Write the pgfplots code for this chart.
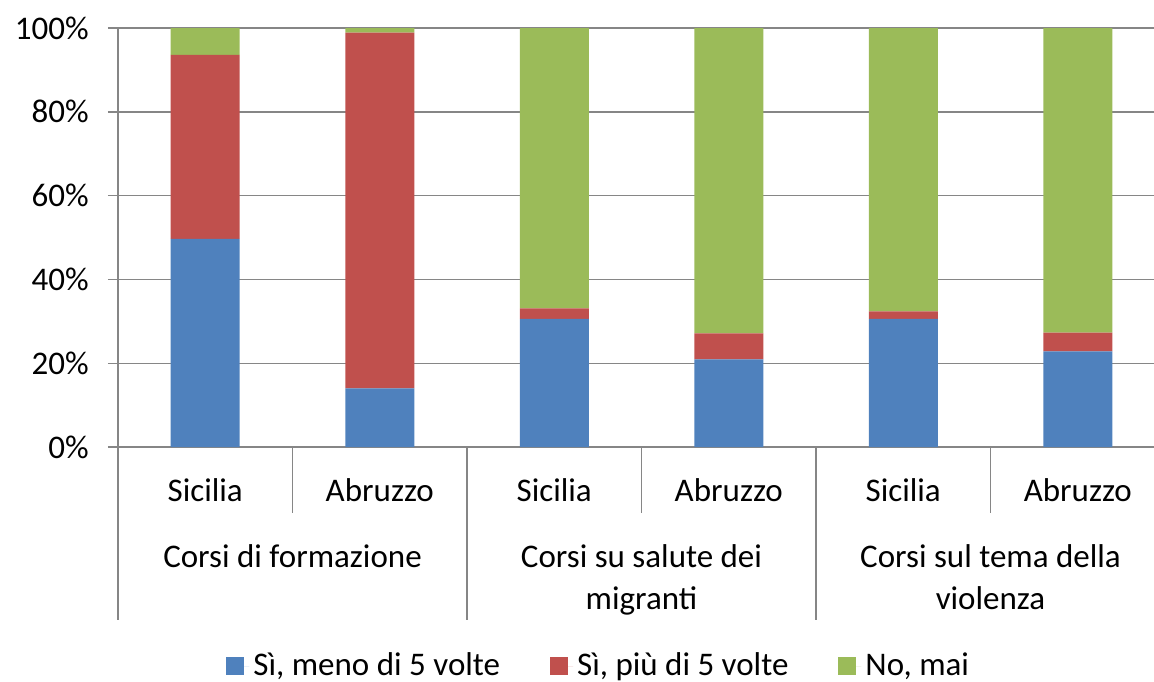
\documentclass[border=0pt]{standalone}
\usepackage{pgfplots}
\pgfplotsset{compat=1.18}
\usepackage{fontspec}
\setmainfont{Carlito}
\definecolor{cblue}{HTML}{4F81BD}
\definecolor{cred}{HTML}{C0504D}
\definecolor{cgreen}{HTML}{9BBB59}
\definecolor{axgray}{HTML}{868686}
\begin{document}
\fontsize{16.5}{20}\selectfont
\begin{tikzpicture}
\path[use as bounding box] (-59pt,-117pt) rectangle (518pt,223.5pt);
\begin{axis}[
  at={(0,0)}, anchor=south west,
  width=518pt, height=209.5pt, scale only axis,
  ybar stacked, bar width=34.5pt,
  xmin=-0.5, xmax=5.437, ymin=0, ymax=100,
  axis x line*=bottom, axis y line*=left,
  axis line style={-, axgray, line width=0.7pt},
  xtick=\empty,
  ytick={0,20,...,100},
  yticklabel={\pgfmathprintnumber{\tick}\%},
  /pgf/number format/assume math mode=true,
  ymajorgrids, grid style={axgray, line width=0.7pt},
  major tick length=5pt, tick align=outside,
  tick style={axgray, line width=0.7pt},
  yticklabel style={text=black, xshift=-4pt},
  clip=false,
  legend style={at={(0.465,-0.523)}, anchor=center, legend columns=-1, draw=none, fill=none,
    font=\fontsize{16.5}{20}\selectfont,
    /tikz/every even column/.append style={column sep=23pt}},
  legend image code/.code={\fill[#1] (0pt,-4.5pt) rectangle (9pt,4.5pt); \path (0pt,0pt) -- (11.5pt,0pt);},
]
\addplot[fill=cblue, draw=none] coordinates {(0,49.7) (1,14.0) (2,30.6) (3,20.9) (4,30.6) (5,22.8)};
\addplot[fill=cred, draw=none] coordinates {(0,43.9) (1,84.9) (2,2.5) (3,6.2) (4,1.8) (5,4.5)};
\addplot[fill=cgreen, draw=none] coordinates {(0,6.4) (1,1.1) (2,66.9) (3,72.9) (4,67.6) (5,72.7)};
\legend{{Sì, meno di 5 volte},{Sì, più di 5 volte},{No, mai}}
\draw[axgray, line width=0.7pt] (axis cs:-0.5,0) -- ++(0pt,-86.5pt);
\draw[axgray, line width=0.7pt] (axis cs:1.5,0) -- ++(0pt,-86.5pt);
\draw[axgray, line width=0.7pt] (axis cs:3.5,0) -- ++(0pt,-86.5pt);
\draw[axgray, line width=0.7pt] (axis cs:0.5,0) -- ++(0pt,-33pt);
\draw[axgray, line width=0.7pt] (axis cs:2.5,0) -- ++(0pt,-33pt);
\draw[axgray, line width=0.7pt] (axis cs:4.5,0) -- ++(0pt,-33pt);
\node[anchor=base, yshift=-27pt] at (axis cs:0,0) {Sicilia};
\node[anchor=base, yshift=-27pt] at (axis cs:1,0) {Abruzzo};
\node[anchor=base, yshift=-27pt] at (axis cs:2,0) {Sicilia};
\node[anchor=base, yshift=-27pt] at (axis cs:3,0) {Abruzzo};
\node[anchor=base, yshift=-27pt] at (axis cs:4,0) {Sicilia};
\node[anchor=base, yshift=-27pt] at (axis cs:5,0) {Abruzzo};
\node[anchor=base, yshift=-60pt] at (axis cs:0.5,0) {Corsi di formazione};
\node[anchor=base, yshift=-60pt] at (axis cs:2.5,0) {Corsi su salute dei};
\node[anchor=base, yshift=-81pt] at (axis cs:2.5,0) {migranti};
\node[anchor=base, yshift=-60pt] at (axis cs:4.5,0) {Corsi sul tema della};
\node[anchor=base, yshift=-81pt] at (axis cs:4.5,0) {violenza};
\end{axis}
\end{tikzpicture}
\end{document}
